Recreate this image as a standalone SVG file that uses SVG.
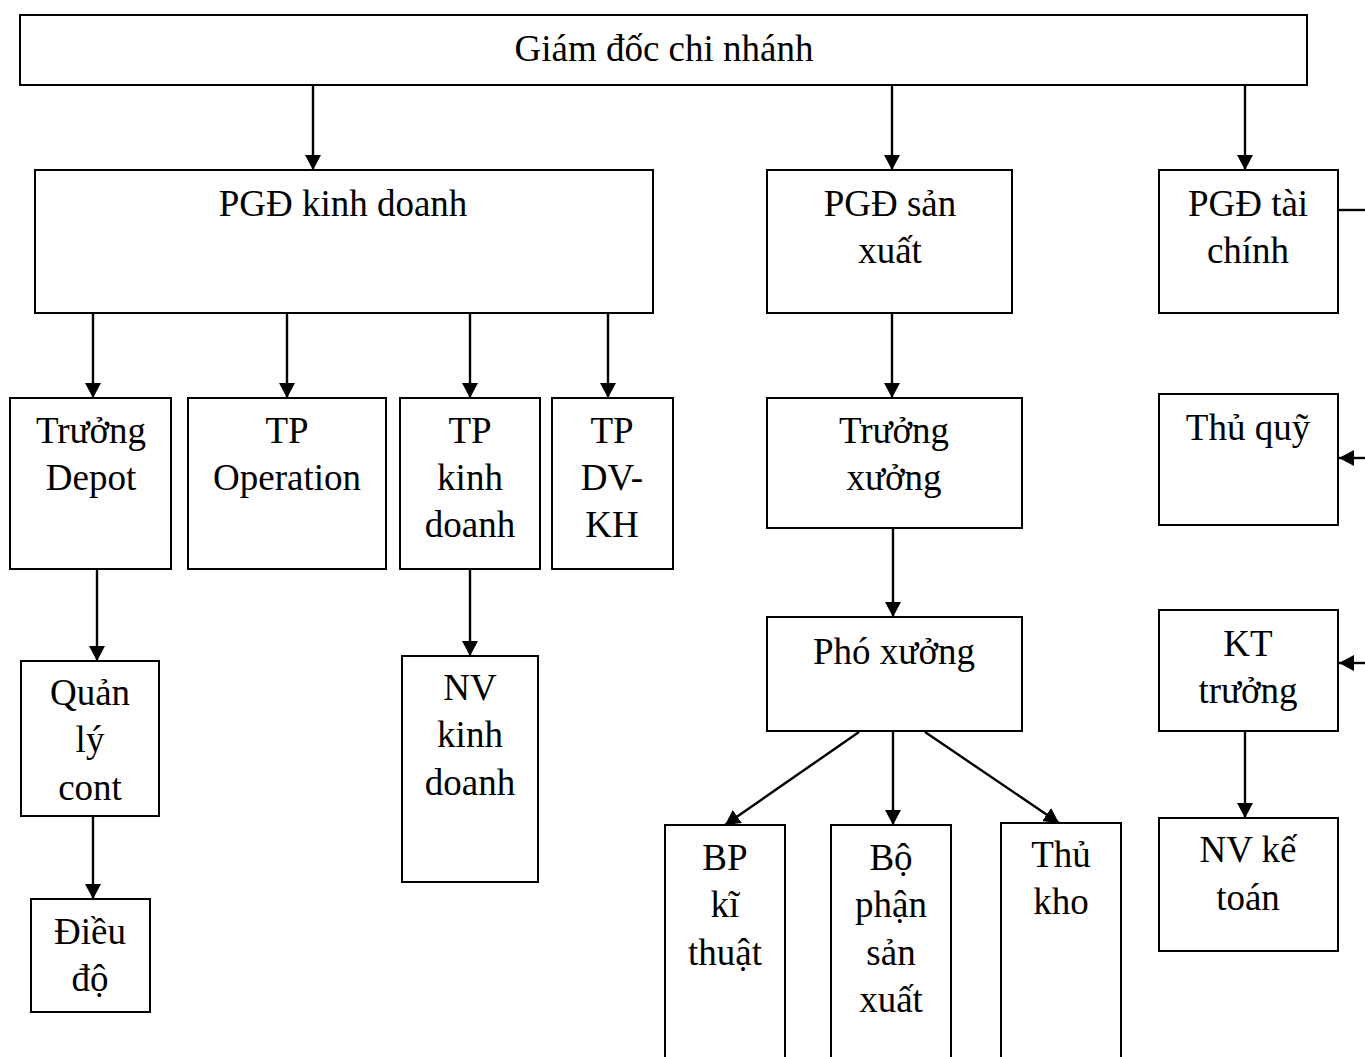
<svg xmlns="http://www.w3.org/2000/svg" width="1365" height="1057" viewBox="0 0 1365 1057">
  <style>
    .box { fill: #ffffff; stroke: #000000; stroke-width: 2; }
    .lbl { font-family: "Liberation Serif", "Times New Roman", serif; font-size: 37px; fill: #000000; text-anchor: middle; }
    .link { fill: none; stroke: #000000; stroke-width: 2.4; marker-end: url(#arrow); }
    .plain { fill: none; stroke: #000000; stroke-width: 2.4; }
  </style>
  <defs>
    <marker id="arrow" viewBox="0 0 15 16" refX="15" refY="8" markerWidth="15" markerHeight="16" markerUnits="userSpaceOnUse" orient="auto">
      <path d="M0,0 L15,8 L0,16 Z" fill="#000000"/>
    </marker>
  </defs>
  <rect width="1365" height="1057" fill="#ffffff"/>

  <!-- connectors -->
  <g id="connectors">
    <line class="link" x1="313" y1="86" x2="313" y2="170"/>
    <line class="link" x1="892" y1="86" x2="892" y2="170"/>
    <line class="link" x1="1245" y1="86" x2="1245" y2="170"/>

    <line class="link" x1="93" y1="314" x2="93" y2="398"/>
    <line class="link" x1="287" y1="314" x2="287" y2="398"/>
    <line class="link" x1="470" y1="314" x2="470" y2="398"/>
    <line class="link" x1="608" y1="314" x2="608" y2="398"/>

    <line class="link" x1="97" y1="570" x2="97" y2="661"/>
    <line class="link" x1="93" y1="817" x2="93" y2="899"/>
    <line class="link" x1="470" y1="570" x2="470" y2="656"/>

    <line class="link" x1="892" y1="314" x2="892" y2="398"/>
    <line class="link" x1="893" y1="529" x2="893" y2="617"/>

    <line class="link" x1="859" y1="732" x2="725" y2="825"/>
    <line class="link" x1="893" y1="732" x2="893" y2="825"/>
    <line class="link" x1="925" y1="732" x2="1059" y2="823"/>

    <line class="plain" x1="1339" y1="210" x2="1365" y2="210"/>
    <line class="link" x1="1367" y1="458" x2="1339" y2="458"/>
    <line class="link" x1="1367" y1="663" x2="1339" y2="663"/>
    <line class="link" x1="1245" y1="732" x2="1245" y2="818"/>
  </g>

  <!-- top level -->
  <g id="giam-doc">
    <rect class="box" x="20" y="15" width="1287" height="70"/>
    <text class="lbl" x="664" y="61">Giám đốc chi nhánh</text>
  </g>

  <!-- deputy directors -->
  <g id="pgd-kinh-doanh">
    <rect class="box" x="35" y="170" width="618" height="143"/>
    <text class="lbl" x="343" y="216">PGĐ kinh doanh</text>
  </g>
  <g id="pgd-san-xuat">
    <rect class="box" x="767" y="170" width="245" height="143"/>
    <text class="lbl" x="890" y="216">PGĐ sản</text>
    <text class="lbl" x="890" y="263">xuất</text>
  </g>
  <g id="pgd-tai-chinh">
    <rect class="box" x="1159" y="170" width="179" height="143"/>
    <text class="lbl" x="1248" y="216">PGĐ tài</text>
    <text class="lbl" x="1248" y="263">chính</text>
  </g>

  <!-- business branch -->
  <g id="truong-depot">
    <rect class="box" x="10" y="398" width="161" height="171"/>
    <text class="lbl" x="91" y="443">Trưởng</text>
    <text class="lbl" x="91" y="490">Depot</text>
  </g>
  <g id="tp-operation">
    <rect class="box" x="188" y="398" width="198" height="171"/>
    <text class="lbl" x="287" y="443">TP</text>
    <text class="lbl" x="287" y="490">Operation</text>
  </g>
  <g id="tp-kinh-doanh">
    <rect class="box" x="400" y="398" width="140" height="171"/>
    <text class="lbl" x="470" y="443">TP</text>
    <text class="lbl" x="470" y="490">kinh</text>
    <text class="lbl" x="470" y="537">doanh</text>
  </g>
  <g id="tp-dv-kh">
    <rect class="box" x="552" y="398" width="121" height="171"/>
    <text class="lbl" x="612" y="443">TP</text>
    <text class="lbl" x="612" y="490">DV-</text>
    <text class="lbl" x="612" y="537">KH</text>
  </g>
  <g id="quan-ly-cont">
    <rect class="box" x="21" y="661" width="138" height="155"/>
    <text class="lbl" x="90" y="705">Quản</text>
    <text class="lbl" x="90" y="752">lý</text>
    <text class="lbl" x="90" y="800">cont</text>
  </g>
  <g id="dieu-do">
    <rect class="box" x="31" y="899" width="119" height="113"/>
    <text class="lbl" x="90" y="944">Điều</text>
    <text class="lbl" x="90" y="991">độ</text>
  </g>
  <g id="nv-kinh-doanh">
    <rect class="box" x="402" y="656" width="136" height="226"/>
    <text class="lbl" x="470" y="700">NV</text>
    <text class="lbl" x="470" y="747">kinh</text>
    <text class="lbl" x="470" y="795">doanh</text>
  </g>

  <!-- production branch -->
  <g id="truong-xuong">
    <rect class="box" x="767" y="398" width="255" height="130"/>
    <text class="lbl" x="894" y="443">Trưởng</text>
    <text class="lbl" x="894" y="490">xưởng</text>
  </g>
  <g id="pho-xuong">
    <rect class="box" x="767" y="617" width="255" height="114"/>
    <text class="lbl" x="894" y="664">Phó xưởng</text>
  </g>
  <g id="bp-ki-thuat">
    <rect class="box" x="665" y="825" width="120" height="240"/>
    <text class="lbl" x="725" y="870">BP</text>
    <text class="lbl" x="725" y="917">kĩ</text>
    <text class="lbl" x="725" y="965">thuật</text>
  </g>
  <g id="bo-phan-san-xuat">
    <rect class="box" x="831" y="825" width="120" height="240"/>
    <text class="lbl" x="891" y="870">Bộ</text>
    <text class="lbl" x="891" y="917">phận</text>
    <text class="lbl" x="891" y="965">sản</text>
    <text class="lbl" x="891" y="1012">xuất</text>
  </g>
  <g id="thu-kho">
    <rect class="box" x="1001" y="823" width="120" height="242"/>
    <text class="lbl" x="1061" y="867">Thủ</text>
    <text class="lbl" x="1061" y="914">kho</text>
  </g>

  <!-- finance branch -->
  <g id="thu-quy">
    <rect class="box" x="1159" y="394" width="179" height="131"/>
    <text class="lbl" x="1248" y="440">Thủ quỹ</text>
  </g>
  <g id="kt-truong">
    <rect class="box" x="1159" y="610" width="179" height="121"/>
    <text class="lbl" x="1248" y="656">KT</text>
    <text class="lbl" x="1248" y="703">trưởng</text>
  </g>
  <g id="nv-ke-toan">
    <rect class="box" x="1159" y="818" width="179" height="133"/>
    <text class="lbl" x="1248" y="862">NV kế</text>
    <text class="lbl" x="1248" y="910">toán</text>
  </g>
</svg>
